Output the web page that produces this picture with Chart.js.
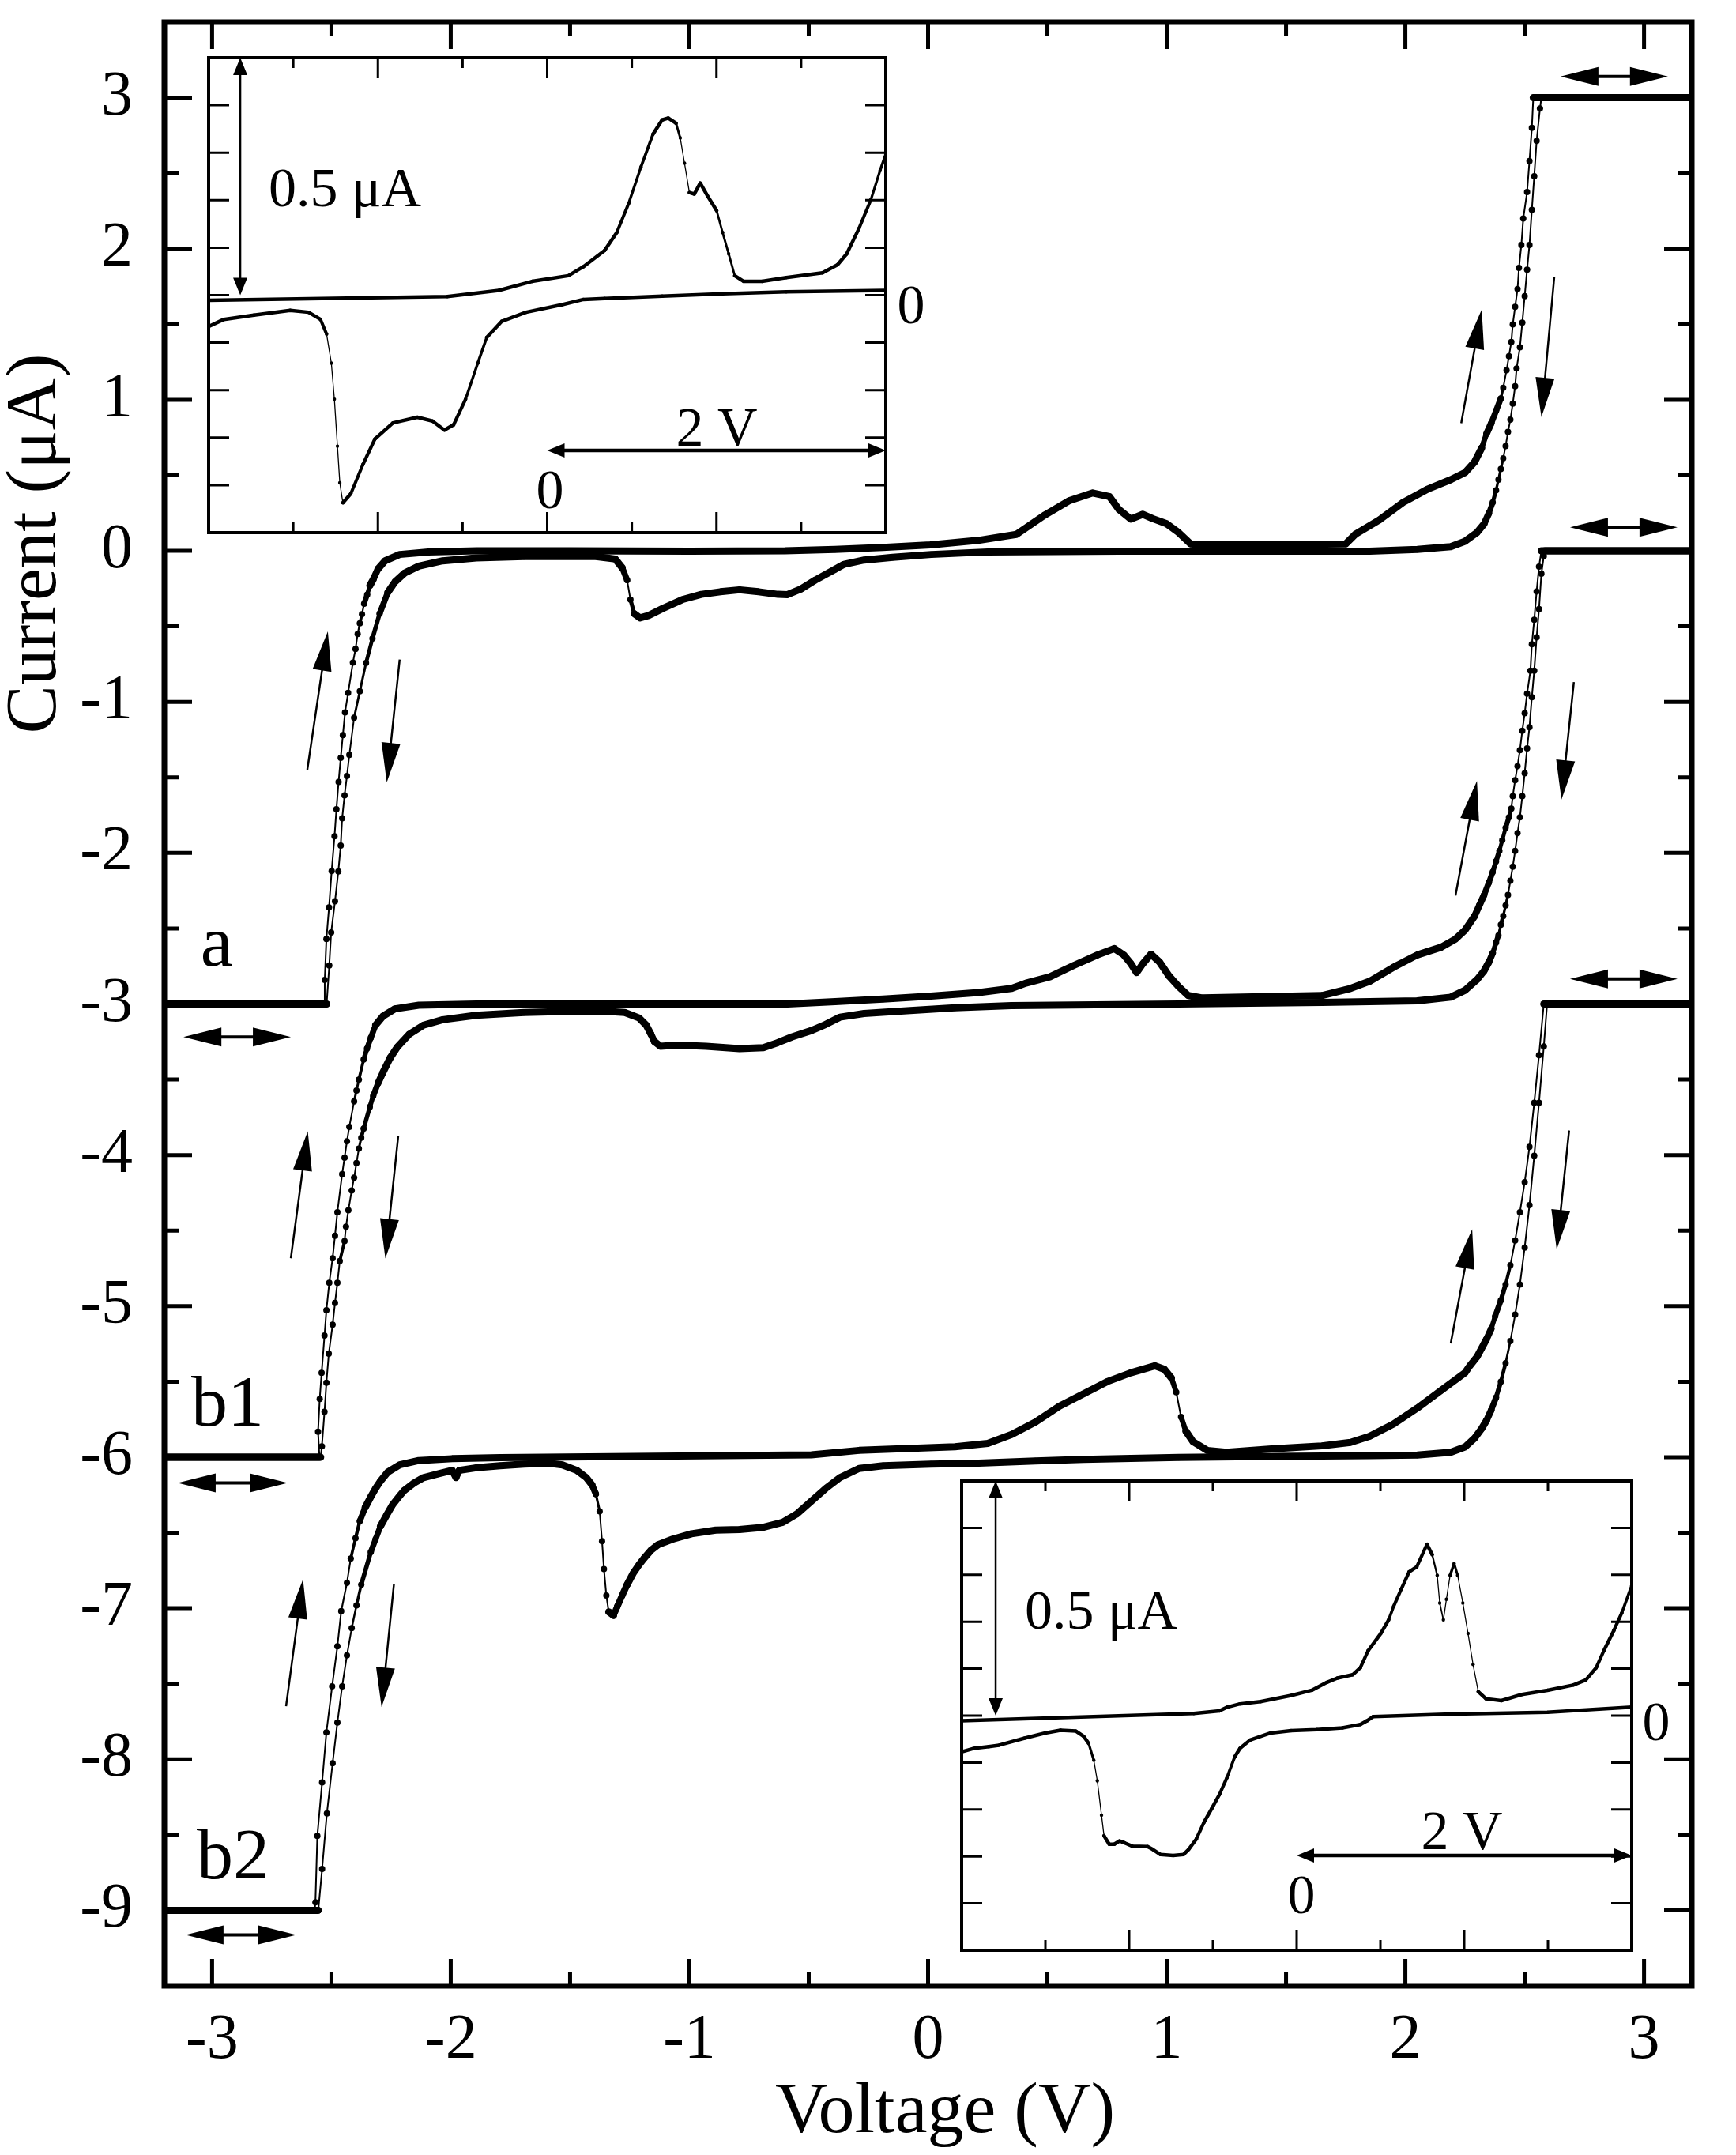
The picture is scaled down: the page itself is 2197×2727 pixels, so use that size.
<!DOCTYPE html>
<html>
<head>
<meta charset="utf-8">
<script src="https://cdn.jsdelivr.net/npm/chart.js@4.4.1/dist/chart.umd.min.js"></script>
<style>
html,body{margin:0;padding:0;background:#fff;}
#wrap{position:relative;width:2197px;height:2727px;overflow:hidden;}
canvas{position:absolute;display:block;}
</style>
</head>
<body>
<div id="wrap">
<canvas id="main" width="2197" height="2727" style="left:0;top:0;width:2197px;height:2727px;"></canvas>
<canvas id="ins1" width="957" height="641" style="left:244px;top:53px;width:957px;height:641px;"></canvas>
<canvas id="ins2" width="948" height="634" style="left:1197px;top:1854px;width:948px;height:634px;"></canvas>
</div>
<script>
// ---------------- DATA ----------------
// Main plot: voltage (V) and current (uA) for each branch of curves a, b1, b2
const aFwdV = [-3.2,-2.53,-2.528,-2.521,-2.51,-2.499,-2.487,-2.479,-2.47,-2.461,-2.452,-2.443,-2.43,-2.41,-2.399,-2.39,-2.381,-2.372,-2.363,-2.35,-2.339,-2.325,-2.305,-2.275,-2.214,-2.094,-1.89,-1.5,-1.0,-0.6,-0.39,-0.19,0.01,0.21,0.37,0.49,0.59,0.69,0.76,0.80,0.85,0.90,0.94,1.00,1.05,1.10,1.15,1.5,1.75,1.79,1.89,1.99,2.09,2.19,2.25,2.29,2.32,2.34,2.36,2.38,2.40,2.41,2.424,2.434,2.444,2.45,2.46,2.47,2.476,2.486,2.494,2.51,2.52,2.53,2.536,3.2];
const aFwdI = [-3,-3,-2.84,-2.57,-2.36,-2.12,-1.89,-1.71,-1.53,-1.37,-1.22,-1.07,-0.94,-0.74,-0.65,-0.55,-0.48,-0.42,-0.35,-0.29,-0.23,-0.19,-0.12,-0.066,-0.024,-0.008,0.0,0.0,-0.002,0.0,0.009,0.023,0.039,0.069,0.109,0.238,0.331,0.383,0.359,0.273,0.210,0.242,0.214,0.179,0.121,0.046,0.039,0.042,0.046,0.109,0.203,0.32,0.406,0.471,0.518,0.588,0.682,0.775,0.845,0.927,1.009,1.079,1.196,1.289,1.382,1.499,1.616,1.733,1.873,2.025,2.2,2.375,2.581,2.8,3.0,3.0];
const aBwdV = [-3.2,-2.52,-2.509,-2.501,-2.485,-2.471,-2.461,-2.455,-2.445,-2.435,-2.425,-2.405,-2.381,-2.355,-2.328,-2.298,-2.264,-2.234,-2.194,-2.134,-2.034,-1.893,-1.693,-1.392,-1.311,-1.281,-1.261,-1.247,-1.231,-1.207,-1.171,-1.111,-1.03,-0.95,-0.87,-0.79,-0.71,-0.629,-0.589,-0.533,-0.473,-0.392,-0.352,-0.268,-0.148,0.013,0.25,0.8,1.85,2.05,2.19,2.25,2.30,2.33,2.35,2.366,2.38,2.39,2.40,2.41,2.42,2.43,2.44,2.45,2.46,2.466,2.48,2.49,2.50,2.51,2.52,2.53,2.54,2.55,2.564,2.57,3.2];
const aBwdI = [-3,-3,-2.745,-2.526,-2.32,-2.122,-1.951,-1.771,-1.619,-1.491,-1.351,-1.105,-0.93,-0.743,-0.58,-0.416,-0.276,-0.206,-0.148,-0.101,-0.066,-0.047,-0.038,-0.038,-0.054,-0.113,-0.194,-0.323,-0.416,-0.444,-0.428,-0.381,-0.323,-0.288,-0.271,-0.258,-0.271,-0.288,-0.29,-0.253,-0.194,-0.124,-0.089,-0.061,-0.043,-0.024,-0.007,-0.003,-0.003,0.009,0.028,0.063,0.121,0.179,0.249,0.32,0.401,0.471,0.542,0.612,0.693,0.787,0.868,0.974,1.09,1.207,1.347,1.511,1.686,1.861,2.025,2.258,2.48,2.714,2.929,3.0,3.0];

const b1FwdV = [-3.2,-2.55,-2.556,-2.549,-2.541,-2.529,-2.521,-2.509,-2.495,-2.485,-2.475,-2.455,-2.445,-2.435,-2.425,-2.405,-2.395,-2.385,-2.365,-2.351,-2.335,-2.315,-2.284,-2.234,-2.134,-1.893,-1.0,-0.589,-0.389,-0.188,0.012,0.213,0.35,0.41,0.51,0.61,0.71,0.78,0.82,0.85,0.874,0.90,0.934,0.97,1.01,1.05,1.09,1.15,1.65,1.77,1.85,1.95,2.05,2.15,2.21,2.25,2.29,2.31,2.33,2.35,2.366,2.38,2.394,2.406,2.42,2.434,2.444,2.45,2.46,2.47,2.48,2.49,2.50,2.51,2.524,2.53,2.54,2.55,2.56,2.57,3.2];
const b1FwdI = [-6,-6,-5.832,-5.615,-5.442,-5.195,-5.027,-4.846,-4.683,-4.534,-4.378,-4.126,-4.017,-3.909,-3.813,-3.645,-3.573,-3.501,-3.368,-3.296,-3.224,-3.14,-3.08,-3.032,-3.008,-3.0,-3.0,-3.0,-2.984,-2.967,-2.948,-2.924,-2.897,-2.862,-2.820,-2.745,-2.675,-2.633,-2.675,-2.733,-2.792,-2.733,-2.670,-2.722,-2.815,-2.885,-2.944,-2.96,-2.944,-2.897,-2.85,-2.757,-2.675,-2.624,-2.570,-2.511,-2.418,-2.348,-2.278,-2.196,-2.126,-2.056,-1.986,-1.916,-1.834,-1.764,-1.706,-1.624,-1.518,-1.425,-1.32,-1.191,-1.075,-0.946,-0.794,-0.619,-0.456,-0.269,-0.105,0.0,0.0];
const b1BwdV = [-3.2,-2.545,-2.54,-2.529,-2.521,-2.511,-2.495,-2.485,-2.475,-2.465,-2.445,-2.439,-2.429,-2.415,-2.405,-2.395,-2.385,-2.375,-2.365,-2.339,-2.325,-2.305,-2.284,-2.254,-2.224,-2.174,-2.114,-2.034,-1.893,-1.693,-1.492,-1.352,-1.271,-1.211,-1.181,-1.161,-1.147,-1.121,-1.051,-0.930,-0.790,-0.690,-0.630,-0.569,-0.489,-0.429,-0.369,-0.268,-0.088,0.113,0.349,1.05,1.65,2.05,2.19,2.25,2.30,2.33,2.35,2.366,2.38,2.39,2.40,2.41,2.42,2.43,2.44,2.45,2.46,2.47,2.48,2.49,2.50,2.51,2.52,2.53,2.54,2.55,2.56,2.57,2.58,2.585,3.2];
const b1BwdI = [-6,-6,-5.928,-5.699,-5.507,-5.315,-5.123,-4.979,-4.846,-4.702,-4.57,-4.474,-4.366,-4.234,-4.15,-4.053,-3.957,-3.885,-3.825,-3.681,-3.609,-3.525,-3.453,-3.357,-3.285,-3.2,-3.14,-3.104,-3.075,-3.056,-3.049,-3.049,-3.056,-3.092,-3.14,-3.2,-3.248,-3.28,-3.272,-3.28,-3.296,-3.289,-3.256,-3.217,-3.176,-3.135,-3.087,-3.063,-3.044,-3.025,-3.01,-3.0,-2.99,-2.979,-2.955,-2.909,-2.839,-2.78,-2.722,-2.663,-2.593,-2.546,-2.476,-2.418,-2.348,-2.278,-2.184,-2.091,-1.986,-1.869,-1.764,-1.624,-1.472,-1.308,-1.168,-0.969,-0.794,-0.572,-0.386,-0.152,-0.035,0.0,0.0];

const b2FwdV = [-3.2,-2.57,-2.567,-2.559,-2.539,-2.521,-2.497,-2.475,-2.459,-2.435,-2.419,-2.399,-2.381,-2.359,-2.335,-2.315,-2.295,-2.264,-2.214,-2.134,-1.994,-1.793,-0.489,-0.289,-0.088,0.113,0.25,0.35,0.45,0.55,0.65,0.75,0.85,0.95,0.99,1.02,1.04,1.06,1.08,1.11,1.17,1.25,1.45,1.65,1.77,1.85,1.95,2.05,2.15,2.25,2.27,2.30,2.32,2.34,2.36,2.376,2.40,2.42,2.44,2.46,2.48,2.50,2.52,2.54,2.56,2.58,3.2];
const b2FwdI = [-9,-9,-8.947,-8.507,-8.153,-7.822,-7.517,-7.252,-7.019,-6.832,-6.671,-6.536,-6.423,-6.334,-6.262,-6.207,-6.159,-6.099,-6.051,-6.022,-6.01,-6.003,-5.984,-5.955,-5.943,-5.931,-5.909,-5.85,-5.768,-5.663,-5.582,-5.5,-5.441,-5.395,-5.418,-5.476,-5.57,-5.733,-5.827,-5.897,-5.955,-5.967,-5.944,-5.925,-5.902,-5.862,-5.78,-5.675,-5.558,-5.441,-5.395,-5.336,-5.278,-5.219,-5.149,-5.068,-4.962,-4.857,-4.729,-4.565,-4.378,-4.18,-3.946,-3.654,-3.339,-3.0,-3.0];
const b2BwdV = [-3.2,-2.555,-2.539,-2.519,-2.495,-2.475,-2.455,-2.435,-2.415,-2.395,-2.375,-2.335,-2.315,-2.295,-2.270,-2.244,-2.214,-2.194,-2.154,-2.114,-2.054,-1.994,-1.978,-1.964,-1.893,-1.793,-1.693,-1.592,-1.532,-1.472,-1.432,-1.408,-1.392,-1.376,-1.366,-1.358,-1.348,-1.338,-1.318,-1.302,-1.282,-1.261,-1.237,-1.211,-1.191,-1.161,-1.131,-1.071,-0.991,-0.890,-0.790,-0.690,-0.609,-0.549,-0.489,-0.429,-0.369,-0.289,-0.188,0.012,0.213,0.45,0.65,1.05,1.45,1.85,2.05,2.19,2.25,2.29,2.32,2.34,2.36,2.38,2.40,2.42,2.44,2.46,2.48,2.50,2.52,2.54,2.56,2.58,2.594,3.2];
const b2BwdI = [-9,-9,-8.726,-8.358,-8.026,-7.757,-7.517,-7.312,-7.132,-6.981,-6.844,-6.628,-6.543,-6.459,-6.387,-6.315,-6.255,-6.219,-6.171,-6.135,-6.111,-6.087,-6.135,-6.087,-6.07,-6.056,-6.046,-6.039,-6.051,-6.087,-6.135,-6.183,-6.243,-6.358,-6.556,-6.741,-6.916,-7.024,-7.048,-6.988,-6.916,-6.844,-6.772,-6.712,-6.671,-6.616,-6.579,-6.543,-6.507,-6.483,-6.479,-6.464,-6.431,-6.375,-6.291,-6.207,-6.135,-6.075,-6.056,-6.046,-6.039,-6.025,-6.014,-6.002,-5.995,-5.99,-5.986,-5.967,-5.932,-5.874,-5.81,-5.757,-5.687,-5.605,-5.5,-5.378,-5.231,-5.056,-4.857,-4.612,-4.332,-4.005,-3.654,-3.281,-3.0,-3.0];

// Inset 1 (upper left) and inset 2 (lower right): V and current (uA)
const in1FwdV = [-2.0,-0.59,-0.286,-0.089,0.125,0.214,0.339,0.411,0.482,0.554,0.625,0.679,0.715,0.761,0.786,0.811,0.840,0.869,0.904,0.947,1.001,1.036,1.072,1.108,1.161,1.269,1.412,1.626,1.715,1.769,1.841,1.912,1.966,2.0];
const in1FwdI = [-0.011,-0.003,0.010,0.029,0.041,0.060,0.094,0.132,0.194,0.270,0.339,0.369,0.373,0.362,0.331,0.278,0.216,0.213,0.236,0.209,0.178,0.132,0.087,0.041,0.029,0.029,0.037,0.047,0.064,0.087,0.140,0.201,0.262,0.297];
const in1BwdV = [-2.0,-1.910,-1.732,-1.518,-1.410,-1.339,-1.303,-1.275,-1.257,-1.239,-1.225,-1.207,-1.160,-1.089,-1.018,-0.911,-0.767,-0.678,-0.607,-0.553,-0.482,-0.410,-0.357,-0.268,-0.125,0.089,0.214,0.339,0.679,1.036,1.412,2.0];
const in1BwdI = [-0.066,-0.051,-0.042,-0.032,-0.036,-0.051,-0.082,-0.143,-0.219,-0.318,-0.395,-0.437,-0.418,-0.357,-0.303,-0.269,-0.257,-0.265,-0.284,-0.273,-0.219,-0.143,-0.089,-0.055,-0.036,-0.020,-0.009,-0.007,-0.002,0.003,0.007,0.010];
const in2FwdV = [-2.0,-0.614,-0.461,-0.415,-0.339,-0.216,-0.033,0.090,0.181,0.243,0.334,0.380,0.426,0.502,0.549,0.579,0.625,0.671,0.717,0.778,0.809,0.839,0.854,0.876,0.894,0.916,0.940,0.961,0.992,1.023,1.053,1.084,1.130,1.222,1.344,1.497,1.650,1.726,1.788,1.833,1.894,1.941,2.0];
const in2FwdI = [-0.011,0.0045,0.010,0.018,0.025,0.030,0.043,0.054,0.071,0.080,0.087,0.102,0.138,0.175,0.204,0.233,0.270,0.306,0.317,0.365,0.343,0.299,0.240,0.204,0.248,0.299,0.324,0.299,0.240,0.175,0.109,0.051,0.036,0.032,0.045,0.054,0.065,0.076,0.102,0.138,0.182,0.219,0.277];
const in2BwdV = [-2.0,-1.930,-1.838,-1.777,-1.624,-1.501,-1.410,-1.318,-1.272,-1.242,-1.211,-1.190,-1.165,-1.150,-1.119,-1.089,-1.058,-1.028,-0.982,-0.890,-0.859,-0.813,-0.737,-0.676,-0.645,-0.599,-0.553,-0.507,-0.461,-0.416,-0.370,-0.339,-0.278,-0.155,-0.033,0.120,0.273,0.380,0.420,0.457,0.885,1.497,2.0];
const in2BwdI = [-0.077,-0.070,-0.066,-0.063,-0.048,-0.037,-0.031,-0.033,-0.044,-0.059,-0.095,-0.139,-0.212,-0.256,-0.274,-0.274,-0.267,-0.271,-0.278,-0.279,-0.285,-0.296,-0.298,-0.296,-0.285,-0.263,-0.227,-0.198,-0.168,-0.132,-0.088,-0.070,-0.052,-0.037,-0.032,-0.030,-0.026,-0.019,-0.011,-0.002,0.003,0.007,0.018];

// Tick values and labels
const xMajorTicks = [-3,-2,-1,0,1,2,3];
const xTickLabels = ['-3','-2','-1','0','1','2','3'];
const xMinorTicks = [-2.5,-1.5,-0.5,0.5,1.5,2.5];
const yMajorTicks = [-9,-8,-7,-6,-5,-4,-3,-2,-1,0,1,2,3];
const yTickLabels = ['-9','-8','-7','-6','-5','-4','-3','-2','-1','0','1','2','3'];
const yMinorTicks = [-8.5,-7.5,-6.5,-5.5,-4.5,-3.5,-2.5,-1.5,-0.5,0.5,1.5,2.5];
const insXMajor = [-1,0,1];
const insXMinor = [-1.5,-0.5,0.5,1.5];
const insYTicks = [-0.4,-0.3,-0.2,-0.1,0,0.1,0.2,0.3,0.4];

// ---------------- Annotations (positions in data units) ----------------
const curveLabels = [['a',-2.981,-2.748],['b1',-2.935,-5.79],['b2',-2.912,-8.787]];
const doubleArrows = [[2.65,3.10,3.14],[2.69,3.14,0.156],[2.69,3.14,-2.834],[-3.12,-2.67,-3.219],[-3.144,-2.683,-6.17],[-3.111,-2.647,-9.163]];
const dirArrows = [
  [-2.601,-1.449,-2.515,-0.533],[-2.214,-0.72,-2.268,-1.533],
  [2.234,0.845,2.320,1.597],[2.624,1.815,2.570,0.885],
  [-2.670,-4.683,-2.599,-3.842],[-2.220,-3.873,-2.274,-4.685],
  [2.210,-2.282,2.300,-1.523],[2.706,-0.869,2.654,-1.647],
  [-2.690,-7.649,-2.619,-6.808],[-2.238,-6.839,-2.290,-7.654],
  [2.19,-5.247,2.28,-4.491],[2.686,-3.837,2.634,-4.624]
];
const ins1Ann = {vArrowV:-1.813, hArrowI:-0.327, texts:[['0.5 \u03BCA',-1.645,0.187,'left'],['0',2.149,-0.059,'center'],['0',0.016,-0.448,'center'],['2 V',1.001,-0.317,'center']]};
const ins2Ann = {vArrowV:-1.797, hArrowI:-0.298, texts:[['0.5 \u03BCA',-1.623,0.185,'left'],['0',2.146,-0.052,'center'],['0',0.028,-0.421,'center'],['2 V',0.986,-0.285,'center']]};

// ---------------- helpers ----------------
const FONT = "'Liberation Serif','Times New Roman',serif";
function pts(V, I){ const n = Math.min(V.length, I.length); const o = []; for (let i = 0; i < n; i++) o.push({x:V[i], y:I[i]}); return o; }
function segW(thick, thin){
  return c => {
    const dx = Math.abs(c.p1.x - c.p0.x), dy = Math.abs(c.p1.y - c.p0.y);
    const s = dy / Math.max(dx, 1e-3);
    if (s <= 2) return thick;
    if (s >= 5) return thin;
    return thick - (s - 2) / 3 * (thick - thin);
  };
}
function ds(label, V, I, thick, thin, r){
  return {label, data: pts(V, I), showLine: true, borderColor: '#000', backgroundColor: '#000',
    pointBackgroundColor: '#000', pointBorderWidth: 0, pointRadius: r, pointHoverRadius: r,
    borderWidth: thick, borderCapStyle: 'round', borderJoinStyle: 'round', tension: 0,
    segment: {borderWidth: segW(thick, thin)}};
}
function head(ctx, fx, fy, tx, ty, len, hw){
  const a = Math.atan2(ty - fy, tx - fx), c = Math.cos(a), s = Math.sin(a);
  ctx.beginPath();
  ctx.moveTo(tx, ty);
  ctx.lineTo(tx - len * c + hw * s, ty - len * s - hw * c);
  ctx.lineTo(tx - len * c - hw * s, ty - len * s + hw * c);
  ctx.closePath(); ctx.fill();
}
function seg(ctx, x1, y1, x2, y2, w){ ctx.lineWidth = w; ctx.beginPath(); ctx.moveTo(x1, y1); ctx.lineTo(x2, y2); ctx.stroke(); }

// ---------------- main chart ----------------
const mainDeco = {
  id: 'mainDeco',
  afterDraw(chart){
    const ctx = chart.ctx, ca = chart.chartArea, xs = chart.scales.x, ys = chart.scales.y;
    ctx.save();
    ctx.fillStyle = '#000'; ctx.strokeStyle = '#000'; ctx.lineCap = 'butt';
    // inward ticks on all four sides
    ctx.lineWidth = 5; ctx.beginPath();
    const xt = xMajorTicks.map(v => [v, 34]).concat(xMinorTicks.map(v => [v, 17]));
    for (const [v, L] of xt){ const p = xs.getPixelForValue(v); ctx.moveTo(p, ca.bottom); ctx.lineTo(p, ca.bottom - L); ctx.moveTo(p, ca.top); ctx.lineTo(p, ca.top + L); }
    const yt = yMajorTicks.map(v => [v, 35]).concat(yMinorTicks.map(v => [v, 18]));
    for (const [v, L] of yt){ const p = ys.getPixelForValue(v); ctx.moveTo(ca.left, p); ctx.lineTo(ca.left + L, p); ctx.moveTo(ca.right, p); ctx.lineTo(ca.right - L, p); }
    ctx.stroke();
    // frame
    ctx.lineWidth = 7; ctx.strokeRect(ca.left, ca.top, ca.right - ca.left, ca.bottom - ca.top);
    // double-headed arrows
    for (const [v1, v2, iv] of doubleArrows){
      const x1 = xs.getPixelForValue(v1), x2 = xs.getPixelForValue(v2), y = ys.getPixelForValue(iv);
      seg(ctx, x1 + 30, y, x2 - 30, y, 4);
      head(ctx, x2, y, x1, y, 48, 12);
      head(ctx, x1, y, x2, y, 48, 12);
    }
    // scan-direction arrows
    for (const [v1, i1, v2, i2] of dirArrows){
      const x1 = xs.getPixelForValue(v1), y1 = ys.getPixelForValue(i1), x2 = xs.getPixelForValue(v2), y2 = ys.getPixelForValue(i2);
      const a = Math.atan2(y2 - y1, x2 - x1);
      seg(ctx, x1, y1, x2 - 30 * Math.cos(a), y2 - 30 * Math.sin(a), 2.5);
      head(ctx, x1, y1, x2, y2, 50, 12);
    }
    // curve labels
    ctx.font = '92px ' + FONT; ctx.textAlign = 'center'; ctx.textBaseline = 'alphabetic';
    for (const [t, v, iv] of curveLabels) ctx.fillText(t, xs.getPixelForValue(v), ys.getPixelForValue(iv));
    // axis titles
    ctx.fillText('Voltage (V)', 1196, 2698);
    ctx.translate(70, 688); ctx.rotate(-Math.PI / 2);
    ctx.fillText('Current (\u03BCA)', 0, 0);
    ctx.restore();
  }
};

new Chart(document.getElementById('main'), {
  type: 'scatter',
  data: {datasets: [
    ds('a forward', aFwdV, aFwdI, 9, 2, 4), ds('a reverse', aBwdV, aBwdI, 9, 2, 4),
    ds('b1 forward', b1FwdV, b1FwdI, 9, 2, 4), ds('b1 reverse', b1BwdV, b1BwdI, 9, 2, 4),
    ds('b2 forward', b2FwdV, b2FwdI, 9, 2, 4), ds('b2 reverse', b2BwdV, b2BwdI, 9, 2, 4)
  ]},
  options: {
    responsive: false, animation: false, devicePixelRatio: 1,
    layout: {padding: {left: 0, top: 28, right: 56, bottom: 0}},
    plugins: {legend: {display: false}, tooltip: {enabled: false}},
    events: [],
    scales: {
      x: {type: 'linear', min: -3.2, max: 3.2,
        grid: {display: false, drawTicks: false}, border: {display: false},
        afterBuildTicks: s => { s.ticks = xMajorTicks.concat(xMinorTicks).sort((a, b) => a - b).map(v => ({value: v})); },
        afterFit: s => { s.height = 214; s.paddingLeft = 0; s.paddingRight = 0; s.paddingTop = 0; s.paddingBottom = 0; },
        ticks: {autoSkip: false, maxRotation: 0, minRotation: 0, padding: 22, color: '#000',
          font: {family: FONT, size: 80},
          callback: v => { const k = xMajorTicks.indexOf(v); return k >= 0 ? xTickLabels[k] : ''; }}
      },
      y: {type: 'linear', min: -9.5, max: 3.5,
        grid: {display: false, drawTicks: false}, border: {display: false},
        afterBuildTicks: s => { s.ticks = yMajorTicks.concat(yMinorTicks).sort((a, b) => a - b).map(v => ({value: v})); },
        afterFit: s => { s.width = 208; s.paddingTop = 0; s.paddingBottom = 0; s.paddingLeft = 0; s.paddingRight = 0; },
        ticks: {autoSkip: false, padding: 40, color: '#000',
          font: {family: FONT, size: 80},
          callback: v => { const k = yMajorTicks.indexOf(v); return k >= 0 ? yTickLabels[k] : ''; }}
      }
    }
  },
  plugins: [mainDeco]
});

// ---------------- insets ----------------
function insetDeco(ann){
  return {
    id: 'insetDeco',
    beforeDraw(chart){
      const ctx = chart.ctx, ca = chart.chartArea;
      ctx.save(); ctx.fillStyle = '#fff'; ctx.fillRect(ca.left, ca.top, ca.right - ca.left, ca.bottom - ca.top); ctx.restore();
    },
    afterDraw(chart){
      const ctx = chart.ctx, ca = chart.chartArea, xs = chart.scales.x, ys = chart.scales.y;
      ctx.save();
      ctx.fillStyle = '#000'; ctx.strokeStyle = '#000'; ctx.lineCap = 'butt';
      ctx.lineWidth = 3; ctx.beginPath();
      const xt = insXMajor.map(v => [v, 26]).concat(insXMinor.map(v => [v, 13]));
      for (const [v, L] of xt){ const p = xs.getPixelForValue(v); ctx.moveTo(p, ca.bottom); ctx.lineTo(p, ca.bottom - L); ctx.moveTo(p, ca.top); ctx.lineTo(p, ca.top + L); }
      for (const v of insYTicks){ const p = ys.getPixelForValue(v); ctx.moveTo(ca.left, p); ctx.lineTo(ca.left + 26, p); ctx.moveTo(ca.right, p); ctx.lineTo(ca.right - 26, p); }
      ctx.stroke();
      ctx.lineWidth = 4; ctx.strokeRect(ca.left, ca.top, ca.right - ca.left, ca.bottom - ca.top);
      // vertical 0.5 uA scale arrow
      const vx = xs.getPixelForValue(ann.vArrowV), yTop = ys.getPixelForValue(0.5), y0 = ys.getPixelForValue(0);
      seg(ctx, vx, yTop + 15, vx, y0 - 15, 2.5);
      head(ctx, vx, y0, vx, yTop, 22, 9);
      head(ctx, vx, yTop, vx, y0, 22, 9);
      // horizontal 2 V scale arrow
      const hx0 = xs.getPixelForValue(0), hx1 = xs.getPixelForValue(2), hy = ys.getPixelForValue(ann.hArrowI);
      seg(ctx, hx0 + 12, hy, hx1 - 12, hy, 4.5);
      head(ctx, hx1, hy, hx0, hy, 22, 9);
      head(ctx, hx0, hy, hx1, hy, 22, 9);
      ctx.font = '70px ' + FONT; ctx.textBaseline = 'alphabetic';
      for (const [t, v, iv, al] of ann.texts){ ctx.textAlign = al; ctx.fillText(t, xs.getPixelForValue(v), ys.getPixelForValue(iv)); }
      ctx.restore();
    }
  };
}
function makeInset(id, fV, fI, bV, bI, ann){
  new Chart(document.getElementById(id), {
    type: 'scatter',
    data: {datasets: [ds('forward', fV, fI, 4.5, 1.3, 2.2), ds('reverse', bV, bI, 4.5, 1.3, 2.2)]},
    options: {
      responsive: false, animation: false, devicePixelRatio: 1, events: [],
      layout: {padding: {left: 20, top: 20, right: 80, bottom: 20}},
      plugins: {legend: {display: false}, tooltip: {enabled: false}},
      scales: {x: {type: 'linear', min: -2, max: 2, display: false}, y: {type: 'linear', min: -0.5, max: 0.5, display: false}}
    },
    plugins: [insetDeco(ann)]
  });
}
makeInset('ins1', in1FwdV, in1FwdI, in1BwdV, in1BwdI, ins1Ann);
makeInset('ins2', in2FwdV, in2FwdI, in2BwdV, in2BwdI, ins2Ann);
</script>
</body>
</html>
